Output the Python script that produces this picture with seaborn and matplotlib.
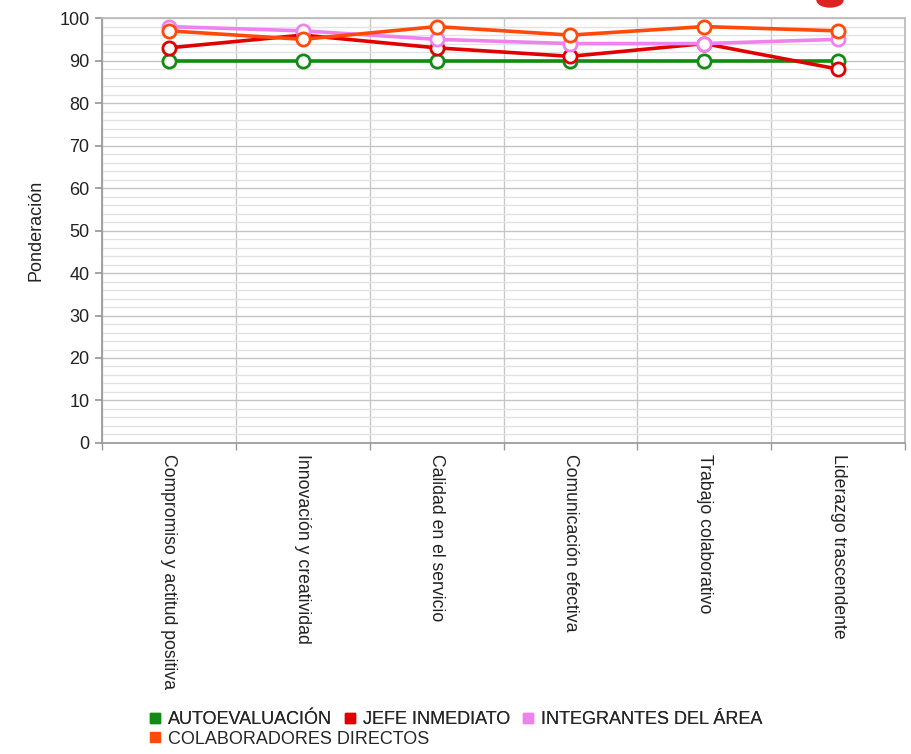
import pandas as pd
import matplotlib
matplotlib.use("Agg")
import matplotlib.pyplot as plt
from matplotlib.patches import Ellipse
from matplotlib.lines import Line2D
from matplotlib.ticker import MultipleLocator, FixedLocator
import seaborn as sns

competencias = ["Compromiso y actitud positiva", "Innovación y creatividad",
                "Calidad en el servicio", "Comunicación efectiva",
                "Trabajo colaborativo", "Liderazgo trascendente"]
series = ["AUTOEVALUACIÓN", "JEFE INMEDIATO", "INTEGRANTES DEL ÁREA",
          "COLABORADORES DIRECTOS"]
autoevaluacion = [90, 90, 90, 90, 90, 90]
jefe_inmediato = [93, 96, 93, 91, 94, 88]
integrantes_area = [98, 97, 95, 94, 94, 95]
colaboradores = [97, 95, 98, 96, 98, 97]
colores = ["#138a13", "#e00000", "#ee82ee", "#ff4a0a"]


def main():
    sns.set_theme(style="white")
    plt.rcParams['font.family'] = ['Liberation Sans', 'DejaVu Sans']

    valores = [autoevaluacion, jefe_inmediato, integrantes_area, colaboradores]
    rows = []
    for s, vals in zip(series, valores):
        for c, v in zip(competencias, vals):
            rows.append({"competencia": c, "serie": s, "valor": v})
    df = pd.DataFrame(rows)

    fig = plt.figure(figsize=(9.11, 7.54), dpi=100)
    ax = fig.add_axes([0.112, 0.4125, 0.8814, 0.5635])

    sns.lineplot(data=df, x="competencia", y="valor", hue="serie",
                 hue_order=series, palette=colores, marker="o",
                 markersize=9.5, linewidth=2.6, sort=False, legend=False, ax=ax)
    for line in ax.lines:
        line.set_markerfacecolor("white")
        line.set_markeredgecolor(line.get_color())
        line.set_markeredgewidth(2)
        line.set_zorder(3)

    ax.set_xlim(-0.5, len(competencias) - 0.5)
    ax.set_ylim(0, 100)
    ax.set_xticks(range(len(competencias)))
    ax.set_xticklabels(competencias, rotation=-90, fontsize=12.7, color="#222222")
    ax.xaxis.set_minor_locator(FixedLocator([i - 0.5 for i in range(len(competencias) + 1)]))
    ax.yaxis.set_major_locator(MultipleLocator(10))
    ax.yaxis.set_minor_locator(MultipleLocator(2))
    ax.tick_params(axis="x", which="major", length=0, pad=8)
    ax.tick_params(axis="x", which="minor", length=5, color="#999999", bottom=True)
    ax.tick_params(axis="y", which="major", length=5, color="#999999",
                   labelsize=13, left=True, labelcolor="#222222", pad=4)
    ax.tick_params(axis="y", which="minor", length=0)

    ax.grid(axis="y", which="minor", color="#e2e2e2", linewidth=1)
    ax.grid(axis="y", which="major", color="#c4c4c4", linewidth=1)
    ax.grid(axis="x", which="minor", color="#c8c8c8", linewidth=1)
    ax.grid(axis="x", which="major", visible=False)
    ax.set_axisbelow(True)
    for sp in ax.spines.values():
        sp.set_color("#bbbbbb")
    ax.spines["left"].set_color("#999999")
    ax.spines["bottom"].set_color("#999999")

    ax.set_xlabel("")
    ax.set_ylabel("Ponderación", fontsize=13, color="#222222", labelpad=11)

    handles = [Line2D([], [], marker="s", linestyle="", markersize=7.5,
                      markerfacecolor=c, markeredgecolor=c) for c in colores]
    leg1 = fig.legend(handles[:3], series[:3], loc="upper left",
                      bbox_to_anchor=(0.163, 0.057), ncol=3, frameon=False,
                      fontsize=13, handlelength=0.7, handletextpad=0.4,
                      columnspacing=0.6, borderaxespad=0, borderpad=0)
    fig.add_artist(leg1)
    fig.legend(handles[3:], series[3:], loc="upper left",
               bbox_to_anchor=(0.163, 0.031), frameon=False,
               fontsize=13, handlelength=0.7, handletextpad=0.4,
               borderaxespad=0, borderpad=0)

    fig.patches.append(Ellipse((830 / 911, 1.0), 26 / 911, 14 / 754,
                               transform=fig.transFigure, color="#dd2222",
                               figure=fig))

    fig.savefig("out.png", dpi=100)


if __name__ == "__main__":
    main()
